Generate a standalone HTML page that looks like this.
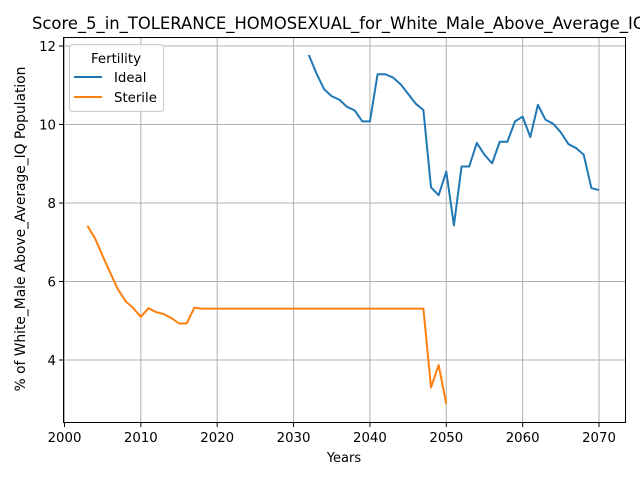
<!DOCTYPE html>
<html><head><meta charset="utf-8"><style>
body{margin:0;background:#fff}
svg text{font-family:"DejaVu Sans","Liberation Sans",sans-serif;fill:#000}
</style></head><body>
<svg id="chart" width="640" height="480" xmlns="http://www.w3.org/2000/svg">
<rect width="640" height="480" fill="#fff"/>
<g id="grid"></g>
<g id="series"></g>
<rect x="63.5" y="37.5" width="562" height="385" fill="none" stroke="#000" stroke-width="1"/>
<g id="ticks"></g>
<text x="32" y="29" font-size="16.4">Score_5_in_TOLERANCE_HOMOSEXUAL_for_White_Male_Above_Average_IQ_Population</text>
<text x="344" y="462" font-size="13" text-anchor="middle">Years</text>
<text transform="translate(25,229) rotate(-90)" font-size="13.8" text-anchor="middle">% of White_Male Above_Average_IQ Population</text>
<g>
<rect x="69.5" y="44.5" width="94" height="67" rx="3" fill="#fff" fill-opacity="0.8" stroke="#ccc"/>
<text x="116" y="63" font-size="13.3" text-anchor="middle">Fertility</text>
<g><line x1="74" y1="77" x2="102" y2="77" stroke="#1f77b4" stroke-width="2"/><text x="114" y="82" font-size="13.3">Ideal</text></g>
<g><line x1="74" y1="97" x2="102" y2="97" stroke="#ff7f0e" stroke-width="2"/><text x="114" y="102" font-size="13.3">Sterile</text></g>
</g>
</svg>
<script>
const xTicks=[2000,2010,2020,2030,2040,2050,2060,2070];
const yTicks=[4,6,8,10,12];
const idealStart=2032;
const idealValues=[11.77,11.3,10.9,10.72,10.63,10.45,10.36,10.08,10.08,11.28,11.28,11.2,11.03,10.78,10.53,10.37,8.4,8.2,8.8,7.43,8.93,8.93,9.53,9.23,9.01,9.56,9.56,10.08,10.2,9.68,10.5,10.12,10.02,9.8,9.5,9.4,9.23,8.38,8.33];
const sterileStart=2003;
const sterileValues=[7.42,7.1,6.65,6.22,5.8,5.5,5.32,5.1,5.32,5.22,5.17,5.07,4.93,4.93,5.33,5.31,5.31,5.31,5.31,5.31,5.31,5.31,5.31,5.31,5.31,5.31,5.31,5.31,5.31,5.31,5.31,5.31,5.31,5.31,5.31,5.31,5.31,5.31,5.31,5.31,5.31,5.31,5.31,5.31,5.31,3.3,3.87,2.88];
const NS='http://www.w3.org/2000/svg';
const xs=v=>64.5+(v-2000)*(599-64.5)/70;
const ys=v=>360-(v-4)*(360-46)/8;
const grid=document.getElementById('grid'),ticks=document.getElementById('ticks'),series=document.getElementById('series');
function mk(tag,attrs,parent){const e=document.createElementNS(NS,tag);for(const k in attrs)e.setAttribute(k,attrs[k]);parent.appendChild(e);return e;}
xTicks.forEach(t=>{const x=xs(t);
 const g=mk('line',{x1:x,x2:x,y1:37.5,y2:422.5,stroke:'#b0b0b0','stroke-width':1},grid);
 
 
 mk('line',{x1:x,x2:x,y1:422.5,y2:427,stroke:'#000','stroke-width':1},ticks);
 const tx=mk('text',{x:x,y:442,'font-size':13.3,'text-anchor':'middle'},ticks);tx.textContent=t;
 
 
});
yTicks.forEach(t=>{const y=ys(t);
 const g=mk('line',{x1:63.5,x2:625.5,y1:y,y2:y,stroke:'#b0b0b0','stroke-width':1},grid);
 
 
 mk('line',{x1:59,x2:63.5,y1:y,y2:y,stroke:'#000','stroke-width':1},ticks);
 const tx=mk('text',{x:56,y:y+5,'font-size':13.3,'text-anchor':'end'},ticks);tx.textContent=t;
 
 
});
function line(start,vals,color,name){
 const pts=vals.map((v,i)=>xs(start+i).toFixed(2)+','+ys(v).toFixed(2)).join(' ');
 const p=mk('polyline',{points:pts,fill:'none',stroke:color,'stroke-width':2,'stroke-linejoin':'round'},series);
 
 
}
line(idealStart,idealValues,'#1f77b4','ideal-line');
line(sterileStart,sterileValues,'#ff7f0e','sterile-line');
</script>
</body></html>
